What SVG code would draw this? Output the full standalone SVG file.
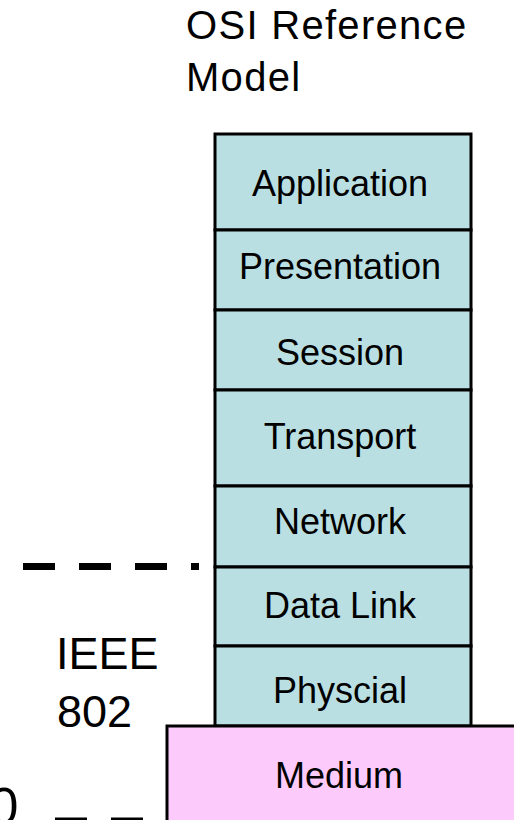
<svg xmlns="http://www.w3.org/2000/svg" width="514" height="820" viewBox="0 0 514 820">
<style>
.layer{fill:#BADFE2;stroke:#000;stroke-width:3}
.medium{fill:#FCCBFC;stroke:#000;stroke-width:3}
.lbl{font-family:"Liberation Sans",Arial,sans-serif;font-size:36px;fill:#000;text-anchor:middle}
.big{font-family:"Liberation Sans",Arial,sans-serif;fill:#000}
.dash{stroke:#000;stroke-width:7;stroke-dasharray:32 24;fill:none}
</style>
<rect width="514" height="820" fill="#fff"/>
<g id="title">
<text class="big" x="186" y="39" font-size="40" letter-spacing="1.3">OSI Reference</text>
<text class="big" x="186" y="91" font-size="40" letter-spacing="1.3">Model</text>
</g>
<g id="application"><rect class="layer" x="215" y="134" width="256" height="96"/><text class="lbl" x="340" y="196">Application</text></g>
<g id="presentation"><rect class="layer" x="215" y="230" width="256" height="80"/><text class="lbl" x="340" y="279">Presentation</text></g>
<g id="session"><rect class="layer" x="215" y="310" width="256" height="80"/><text class="lbl" x="340" y="365">Session</text></g>
<g id="transport"><rect class="layer" x="215" y="390" width="256" height="96"/><text class="lbl" x="340" y="449">Transport</text></g>
<g id="network"><rect class="layer" x="215" y="486" width="256" height="81"/><text class="lbl" x="340" y="534">Network</text></g>
<g id="datalink"><rect class="layer" x="215" y="567" width="256" height="79"/><text class="lbl" x="340" y="618">Data Link</text></g>
<g id="physical"><rect class="layer" x="215" y="646" width="256" height="80"/><text class="lbl" x="340" y="703">Physcial</text></g>
<g id="medium"><rect class="medium" x="167" y="726" width="360" height="110"/><text class="lbl" x="339" y="788">Medium</text></g>
<g id="ieee">
<text class="big" x="56" y="669" font-size="45">IEEE</text>
<text class="big" x="57" y="727" font-size="45">802</text>
</g>
<g id="partial-label"><text class="big" x="4" y="824" font-size="52" text-anchor="middle">0</text></g>
<g id="connectors">
<line class="dash" x1="23" y1="566.5" x2="199" y2="566.5"/>
<line class="dash" x1="55" y1="821" x2="167" y2="821"/>
</g>
</svg>
